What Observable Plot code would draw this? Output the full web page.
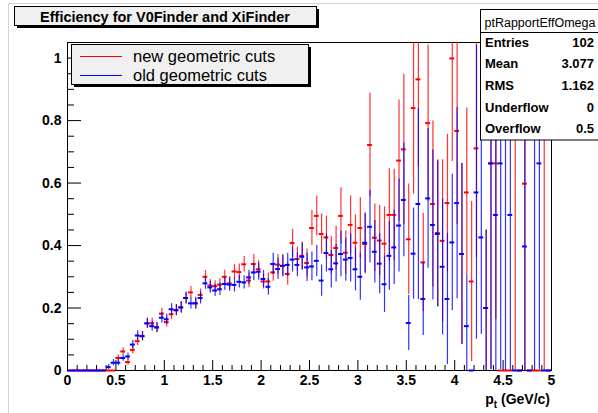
<!DOCTYPE html>
<html><head><meta charset="utf-8">
<script src="https://cdn.jsdelivr.net/npm/d3@7"></script>
<script src="https://cdn.jsdelivr.net/npm/@observablehq/plot@0.6"></script>
<style>
body{margin:0;background:#fff;}
#chart{position:relative;width:598px;height:413px;overflow:hidden;}
</style></head><body><div id="chart"></div>
<script>
const titleText = "Efficiency for V0Finder and XiFinder";
const statsName = "ptRapportEffOmega";
const statsLabels = ["Entries","Mean","RMS","Underflow","Overflow"];
const statsValues = ["102","3.077","1.162","0","0.5"];
const legendLabels = ["new geometric cuts","old geometric cuts"];
const seriesColors = ["#ff0000","#0000ff"];
const xTitle = ["p","t"," (GeV/c)"];

const xTicks = [0,0.5,1,1.5,2,2.5,3,3.5,4,4.5,5];
const xMinorTicks = [0.1,0.2,0.3,0.4,0.6,0.7,0.8,0.9,1.1,1.2,1.3,1.4,1.6,1.7,1.8,1.9,2.1,2.2,2.3,2.4,2.6,2.7,2.8,2.9,3.1,3.2,3.3,3.4,3.6,3.7,3.8,3.9,4.1,4.2,4.3,4.4,4.6,4.7,4.8,4.9];
const yTicks = [0,0.2,0.4,0.6,0.8,1];
const yMinorTicks = [0.05,0.1,0.15,0.25,0.3,0.35,0.45,0.5,0.55,0.65,0.7,0.75,0.85,0.9,0.95];

const halfBin = 0.025;
const binCenters = [0.025,0.075,0.125,0.175,0.225,0.275,0.325,0.375,0.425,0.475,0.525,0.575,0.625,0.675,0.725,0.775,0.825,0.875,0.925,0.975,1.025,1.075,1.125,1.175,1.225,1.275,1.325,1.375,1.425,1.475,1.525,1.575,1.625,1.675,1.725,1.775,1.825,1.875,1.925,1.975,2.025,2.075,2.125,2.175,2.225,2.275,2.325,2.375,2.425,2.475,2.525,2.575,2.625,2.675,2.725,2.775,2.825,2.875,2.925,2.975,3.025,3.075,3.125,3.175,3.225,3.275,3.325,3.375,3.425,3.475,3.525,3.575,3.625,3.675,3.725,3.775,3.825,3.875,3.925,3.975,4.025,4.075,4.125,4.175,4.225,4.275,4.325,4.375,4.425,4.475,4.525,4.575,4.625,4.675,4.725,4.775,4.825,4.875,4.925,4.975];

const newEff = [0,0,0,0,0,0,0,0,0,0,
 0.04,0.061,0.027,0.066,0.094,0.11,0.151,0.151,0.138,0.182,
 0.155,0.18,0.193,0.202,0.232,0.25,0.215,0.242,0.30,0.272,
 0.27,0.275,0.30,0.279,0.317,0.315,0.34,0.288,0.341,0.324,
 0.285,0.285,0.314,0.339,0.335,0.309,0.408,0.357,0.367,0.344,
 0.456,0.495,0.437,0.426,0.37,0.392,0.495,0.377,0.466,0.409,
 0.456,0.405,0.722,0.425,0.416,0.406,0.498,0.498,0.672,0.708,
 0.42,0.84,0.932,0.346,0.792,0.533,0.44,0.415,0.536,0.999,
 0.767,0.373,0.57,0.285,0.711,null,0.2,0.663,0.663,0,
 0,0,1.0,0,0.598,0,0,0,1.0,0];
const newErr = [0,0,0,0,0,0,0,0,0,0,
 0.01,0.012,0.01,0.013,0.014,0.015,0.016,0.016,0.016,0.017,
 0.016,0.017,0.017,0.018,0.018,0.019,0.018,0.019,0.02,0.019,
 0.017,0.019,0.021,0.021,0.022,0.026,0.025,0.023,0.03,0.027,
 0.024,0.027,0.028,0.032,0.032,0.036,0.044,0.038,0.044,0.045,
 0.056,0.064,0.064,0.068,0.06,0.07,0.09,0.07,0.093,0.089,
 0.097,0.096,0.166,0.108,0.112,0.118,0.148,0.146,0.194,0.24,
 0.177,0.275,0.28,0.157,0.25,0.266,0.235,0.26,0.22,0.33,
 0.3,0.29,0.27,0.256,0.35,null,0.25,0.66,0.5,0,
 0,0,1.0,0,0.6,0,0,0,1.0,0];
const oldEff = [0,0,0,0,0,0,0,0,0.011,0.025,
 0.025,0.04,0.045,0.083,0.112,0.11,0.151,0.142,0.138,0.169,
 0.164,0.196,0.193,0.202,0.232,0.215,0.215,0.232,0.279,0.266,
 0.256,0.26,0.277,0.275,0.274,0.284,0.282,0.298,0.314,0.316,
 0.293,0.268,0.341,0.325,0.335,0.338,0.355,0.338,0.364,0.33,
 0.333,0.351,0.288,0.376,0.324,0.343,0.373,0.355,0.36,0.324,
 0.30,0.409,0.46,0.38,0.342,0.276,0.367,0.394,0.464,0.546,
 0.152,0.374,0.533,0.229,0.551,0.466,0.437,0.332,0.229,0.41,
 0.536,0.373,0.142,0,0.57,0.426,0.2,0.663,0.498,0.663,
 1.0,0.498,0,0,0.397,0,1.0,0.663,0,0];
const oldErr = [0,0,0,0,0,0,0,0,0.008,0.01,
 0.01,0.01,0.011,0.013,0.015,0.015,0.016,0.016,0.016,0.017,
 0.017,0.018,0.018,0.018,0.019,0.018,0.018,0.019,0.019,0.019,
 0.019,0.02,0.021,0.021,0.023,0.02,0.021,0.023,0.027,0.027,
 0.027,0.027,0.034,0.034,0.036,0.037,0.04,0.038,0.043,0.045,
 0.046,0.05,0.05,0.061,0.06,0.06,0.073,0.069,0.077,0.069,
 0.075,0.096,0.116,0.10,0.096,0.09,0.11,0.119,0.149,0.182,
 0.088,0.146,0.306,0.117,0.224,0.24,0.234,0.218,0.21,0.218,
 0.306,0.29,0.16,0,0.47,0.31,0.25,0.66,0.5,0.66,
 1.0,0.5,0,0,0.45,0,1.0,0.66,0,0];

function rowsFor(vals, errs){
  return binCenters.map((x,i)=>({x, v: vals[i], e: errs[i]})).filter(d=>d.v!=null);
}
const seriesRows = [rowsFor(newEff,newErr), rowsFor(oldEff,oldErr)];

const W = 598, H = 413, mL = 67, mR = 47, mT = 42, mB = 43;
const fw = W - mL - mR, fh = H - mT - mB;

const dataMarks = [];
seriesRows.forEach((rows, k) => {
  dataMarks.push(Plot.ruleX(rows.filter(d=>d.e>0), {x:"x", y1: d=>d.v-d.e, y2: d=>d.v+d.e, stroke: seriesColors[k], strokeWidth: 1.2, strokeOpacity: 0.8, clip: true}));
  dataMarks.push(Plot.ruleY(rows, {y:"v", x1: d=>d.x-halfBin, x2: d=>d.x+halfBin, stroke: seriesColors[k], strokeWidth: 2}));
});

const plot = Plot.plot({
  width: W, height: H,
  marginLeft: mL, marginRight: mR, marginTop: mT, marginBottom: mB,
  style: {fontFamily: "'Liberation Sans', Arial, Helvetica, sans-serif", background: "transparent", color: "black"},
  x: {domain: [0,5]},
  y: {domain: [0,1.05]},
  marks: [
    Plot.frame({stroke: "black", strokeWidth: 1}),
    Plot.ruleX(xMinorTicks, {x: d=>d, insetTop: fh-5, stroke: "black"}),
    Plot.ruleX(xTicks, {x: d=>d, insetTop: fh-10, stroke: "black"}),
    Plot.ruleY(yMinorTicks, {y: d=>d, insetRight: fw-7, stroke: "black"}),
    Plot.ruleY(yTicks, {y: d=>d, insetRight: fw-14, stroke: "black"}),
    Plot.axisX({ticks: xTicks, tickSize: 0, tickPadding: 5, tickFormat: d=>String(d), fontSize: 14, fontWeight: "bold", label: null}),
    Plot.axisY({ticks: yTicks, tickSize: 0, tickPadding: 6, tickFormat: d=>String(d), fontSize: 14, fontWeight: "bold", label: null}),
    ...dataMarks
  ]
});
document.getElementById("chart").appendChild(plot);

const svg = d3.select(plot);
const font = "'Liberation Sans', Arial, Helvetica, sans-serif";
// canvas border
svg.append("path").attr("d","M8.5,413V3.5H598").attr("fill","none").attr("stroke","#d4d4d4");

// title box
const tg = svg.append("g").attr("font-family", font);
tg.append("rect").attr("x",17).attr("y",9).attr("width",302).attr("height",19).attr("fill","black");
tg.append("rect").attr("x",14.5).attr("y",6.5).attr("width",302).attr("height",19).attr("fill","#f0f0f0").attr("stroke","black");
tg.append("text").attr("x",165).attr("y",21.5).attr("text-anchor","middle").attr("font-weight","bold").attr("font-size",14.5).attr("fill","black").text(titleText);

// legend
const lg = svg.append("g").attr("font-family", font);
lg.append("rect").attr("x",74).attr("y",47).attr("width",237).attr("height",40).attr("fill","black");
lg.append("rect").attr("x",71.5).attr("y",44.5).attr("width",237).attr("height",40).attr("fill","#f0f0f0").attr("stroke","black");
legendLabels.forEach((lab,i)=>{
  const cy = 56.5 + i*19;
  lg.append("line").attr("x1",80).attr("x2",122).attr("y1",cy).attr("y2",cy).attr("stroke",seriesColors[i]).attr("stroke-width",1.2);
  lg.append("text").attr("x",133).attr("y",cy+5.5).attr("text-anchor","start").attr("font-size",16.5).attr("fill","black").text(lab);
});

// stats box
const sg = svg.append("g").attr("font-family", font);
sg.append("rect").attr("x",480.5).attr("y",9.5).attr("width",130).attr("height",130.5).attr("fill","white").attr("stroke","black");
sg.append("line").attr("x1",480.5).attr("x2",598).attr("y1",32.5).attr("y2",32.5).attr("stroke","black");
sg.append("text").attr("x",540).attr("y",26.5).attr("text-anchor","middle").attr("font-size",12.5).attr("fill","black").text(statsName);
statsLabels.forEach((lab,i)=>{
  const by = 46.7 + i*21.6;
  sg.append("text").attr("x",485).attr("y",by).attr("text-anchor","start").attr("font-size",13).attr("font-weight","bold").attr("fill","black").text(lab);
  sg.append("text").attr("x",594).attr("y",by).attr("text-anchor","end").attr("font-size",13).attr("font-weight","bold").attr("fill","black").text(statsValues[i]);
});

// x axis title
const xt = svg.append("text").attr("x",550).attr("y",404).attr("text-anchor","end").attr("font-family",font).attr("font-weight","bold").attr("font-size",14).attr("fill","black");
xt.append("tspan").text(xTitle[0]);
xt.append("tspan").attr("dy",4).attr("font-size",10).text(xTitle[1]);
xt.append("tspan").attr("dy",-4).text(xTitle[2]);
</script>
</body></html>
